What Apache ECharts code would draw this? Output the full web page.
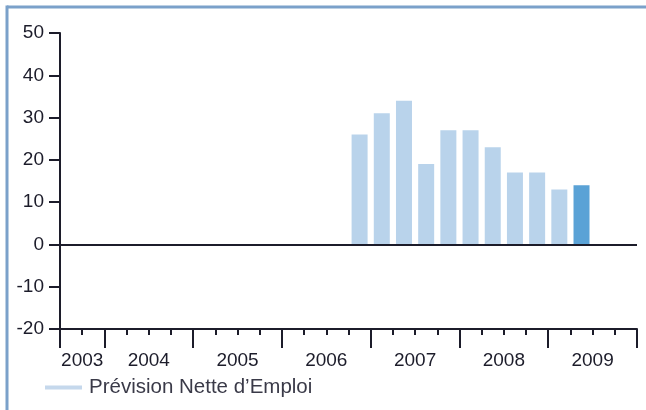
<!DOCTYPE html>
<html>
<head>
<meta charset="utf-8">
<script src="https://cdn.jsdelivr.net/npm/echarts@6/dist/echarts.min.js"></script>
<style>
  html, body { margin: 0; padding: 0; background: #fff; }
  #chart { width: 646px; height: 410px; }
</style>
</head>
<body>
<div id="chart"></div>
<script>
// quarters from 2003 T3 to 2009 T4
const quarters = [
  "2003 T3", "2003 T4",
  "2004 T1", "2004 T2", "2004 T3", "2004 T4",
  "2005 T1", "2005 T2", "2005 T3", "2005 T4",
  "2006 T1", "2006 T2", "2006 T3", "2006 T4",
  "2007 T1", "2007 T2", "2007 T3", "2007 T4",
  "2008 T1", "2008 T2", "2008 T3", "2008 T4",
  "2009 T1", "2009 T2", "2009 T3", "2009 T4",
];
const values = [
  null, null,
  null, null, null, null,
  null, null, null, null,
  null, null, null, 26,
  31, 34, 19, 27,
  27, 23, 17, 17,
  13, 14, null, null,
];
const currentQuarter = "2009 T2";
const years = ["2003", "2004", "2005", "2006", "2007", "2008", "2009"];
const yearStarts = [0, 2, 6, 10, 14, 18, 22, 26]; // quarter index where each year begins
const yTicks = { min: -20, max: 50, step: 10 };
const seriesName = "Prévision Nette d’Emploi";

const chart = echarts.init(document.getElementById("chart"));

const ink = "#1c1c2a";
const labelFont = "Liberation Sans, Arial, sans-serif";

const yearMids = years.map((y, i) => (yearStarts[i] + yearStarts[i + 1]) / 2);

const barData = values.map((v, i) => {
  if (v === null) return "-";
  if (quarters[i] === currentQuarter) {
    return { value: v, itemStyle: { color: "#5aa2d6" } };
  }
  return v;
});

const option = {
  animation: false,
  graphic: [
    {
      type: "line",
      shape: { x1: 7, y1: 7, x2: 646, y2: 7 },
      style: { stroke: "#7ba1ca", lineWidth: 3 },
    },
    {
      type: "line",
      shape: { x1: 7, y1: 5.5, x2: 7, y2: 410 },
      style: { stroke: "#7ba1ca", lineWidth: 3 },
    },
  ],
  legend: {
    data: [seriesName],
    left: 40,
    top: 372,
    icon: "rect",
    itemWidth: 37,
    itemHeight: 4,
    itemStyle: { color: "#c5d8ec" },
    textStyle: {
      fontSize: 20.5,
      color: "#3a3a48",
      fontFamily: labelFont,
      padding: [0, 0, 0, 2],
    },
  },
  grid: { left: 60, right: 9, top: 33, bottom: 81 },
  xAxis: [
    {
      type: "category",
      data: quarters,
      boundaryGap: true,
      axisLine: { onZero: false, lineStyle: { color: ink, width: 2 } },
      axisTick: { show: true, interval: 0, length: 6, lineStyle: { color: ink, width: 2 } },
      axisLabel: { show: false },
      splitLine: { show: false },
    },
    {
      type: "value",
      position: "bottom",
      min: 0,
      max: quarters.length,
      axisLine: { show: false, onZero: false },
      axisTick: {
        show: true,
        length: 19,
        customValues: yearStarts,
        lineStyle: { color: ink, width: 2 },
      },
      axisLabel: {
        show: true,
        customValues: yearMids,
        formatter: (v) => years[yearMids.indexOf(v)] || "",
        margin: 22,
        fontSize: 19,
        color: ink,
        fontFamily: labelFont,
      },
      splitLine: { show: false },
    },
  ],
  yAxis: {
    type: "value",
    min: yTicks.min,
    max: yTicks.max,
    interval: yTicks.step,
    axisLine: { show: true, lineStyle: { color: ink, width: 2 } },
    axisTick: { show: true, length: 11, lineStyle: { color: ink, width: 2 } },
    axisLabel: { margin: 16, fontSize: 19, color: ink, fontFamily: labelFont },
    splitLine: { show: false },
  },
  series: [
    {
      name: seriesName,
      type: "bar",
      xAxisIndex: 0,
      data: barData,
      barWidth: 16,
      itemStyle: { color: "#b9d3eb" },
      markLine: {
        silent: true,
        symbol: "none",
        label: { show: false },
        lineStyle: { color: ink, width: 2, type: "solid" },
        data: [{ yAxis: 0 }],
      },
    },
  ],
};

chart.setOption(option);
</script>
</body>
</html>
